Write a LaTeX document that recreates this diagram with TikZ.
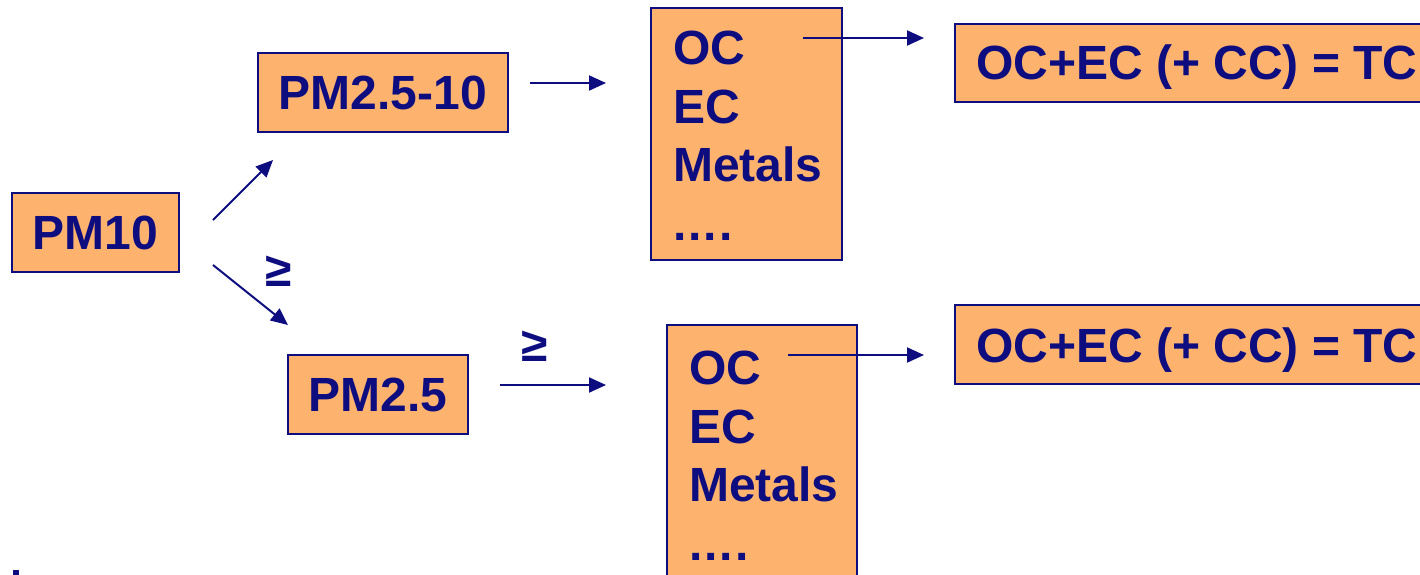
\documentclass[tikz,border=0pt]{standalone}
\usepackage{fontspec}
\setmainfont{Liberation Sans}
\usetikzlibrary{arrows.meta}
\definecolor{navy}{RGB}{13,13,128}
\definecolor{boxfill}{RGB}{253,179,110}
\newcommand{\mydots}{.\kern2pt.\kern2pt.\kern2pt.}
\tikzset{
  pmbox/.style={draw=navy, line width=2pt, fill=boxfill, rectangle, inner sep=0pt,
     text=navy, font=\fontsize{48}{58.5}\selectfont\bfseries},
  txt/.style={text=navy, inner sep=0pt, font=\fontsize{48}{58.5}\selectfont\bfseries},
  arr/.style={draw=navy, line width=2pt, -{Triangle[length=17pt,width=15pt]}}
}
\begin{document}
\begin{tikzpicture}[x=1pt,y=-1pt]
\clip (0,0) rectangle (1420,574);
\fill[white] (0,0) rectangle (1420,574);
% boxes
\node[pmbox, minimum width=167pt, minimum height=79pt] (pm10) at (95.5,232.5) {PM10};
\node[pmbox, minimum width=250pt, minimum height=79pt] (pm2510) at (383,92.5) {PM2.5-10};
\node[pmbox, minimum width=180pt, minimum height=79pt] (pm25) at (378,394.5) {PM2.5};
\node[pmbox, minimum width=191pt, minimum height=252pt] (col1) at (746.5,134) {};
\node[pmbox, minimum width=190pt, minimum height=275pt] (col2) at (762,462.5) {};
\node[pmbox, minimum width=500pt, minimum height=78pt, anchor=north west] (tc1) at (954,23) {};
\node[pmbox, minimum width=500pt, minimum height=79pt, anchor=north west] (tc2) at (954,304) {};
% texts
\node[txt, align=left, anchor=north west] (col1t) at (673,31) {OC\\EC\\Metals\\\mydots};
\node[txt, align=left, anchor=north west] (col2t) at (689,351) {OC\\EC\\Metals\\\mydots};
\node[txt, anchor=base west] (tc1t) at (976,79) {OC+EC (+ CC) = TC};
\node[txt, anchor=base west] (tc2t) at (976,362) {OC+EC (+ CC) = TC};
\node[txt] (ge1) at (278.5,271.5) {≥};
\node[txt] (ge2) at (534.5,346.5) {≥};
% arrow ends
\coordinate (a1s) at (213,220); \coordinate (a1e) at (273,160);
\coordinate (a2s) at (213,265); \coordinate (a2e) at (288,325);
\coordinate (a3s) at (530,83);  \coordinate (a3e) at (606,83);
\coordinate (a4s) at (500,385); \coordinate (a4e) at (606,385);
\coordinate (a5s) at (803,38);  \coordinate (a5e) at (924,38);
\coordinate (a6s) at (788,355); \coordinate (a6e) at (924,355);
\draw[arr] (a1s) -- (a1e);
\draw[arr] (a2s) -- (a2e);
\draw[arr] (a3s) -- (a3e);
\draw[arr] (a4s) -- (a4e);
\draw[arr] (a5s) -- (a5e);
\draw[arr] (a6s) -- (a6e);
% stray mark bottom left
\fill[navy] (13,570) rectangle (19,575);
\end{tikzpicture}
\end{document}
